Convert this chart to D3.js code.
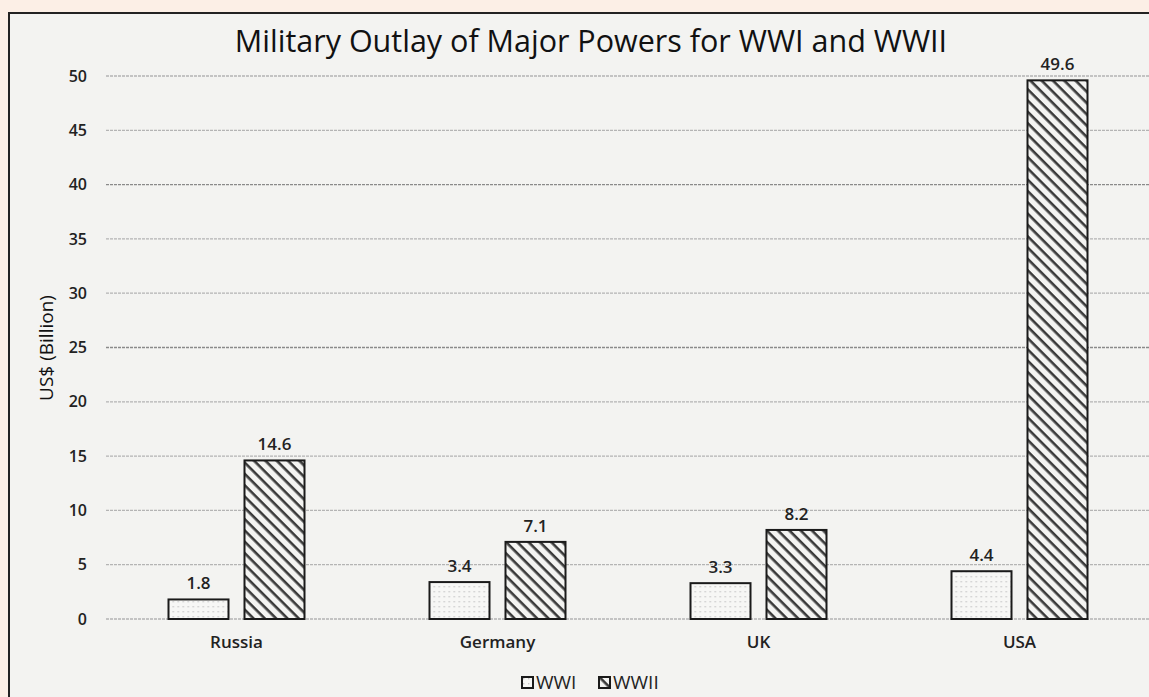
<!DOCTYPE html>
<html><head><meta charset="utf-8">
<script src="https://cdn.jsdelivr.net/npm/d3@7"></script>
<style>
html,body{margin:0;padding:0;background:#fcefe6;}
svg{display:block;}
</style></head>
<body>
<svg id="chart" width="1149" height="697"></svg>
<script>
const categories = ["Russia","Germany","UK","USA"];
const seriesNames = ["WWI","WWII"];
const wwi = [1.8, 3.4, 3.3, 4.4];
const wwii = [14.6, 7.1, 8.2, 49.6];
const yTicks = [0,5,10,15,20,25,30,35,40,45,50];

const svg = d3.select("#chart");
const W = 1149, H = 697;

const defs = svg.append("defs");
const dots = defs.append("pattern").attr("id","dots").attr("patternUnits","userSpaceOnUse")
  .attr("width",5).attr("height",5);
dots.append("rect").attr("width",5).attr("height",5).attr("fill","#f7f7f5");
dots.append("rect").attr("x",1).attr("y",1).attr("width",1.4).attr("height",1.4).attr("fill","#c8c8c8");
const hatch = defs.append("pattern").attr("id","hatch").attr("patternUnits","userSpaceOnUse")
  .attr("width",8).attr("height",8).attr("patternTransform","rotate(45)");
hatch.append("rect").attr("width",8).attr("height",8).attr("fill","#f4f4f2");
hatch.append("rect").attr("x",0).attr("y",0).attr("width",8).attr("height",2.6).attr("fill","#3a3a3a");

// panel
svg.append("rect").attr("x",9).attr("y",13).attr("width",W).attr("height",H)
  .attr("fill","#f3f3f1").attr("stroke","#222").attr("stroke-width",2);

const x0 = d3.scaleBand().domain(categories).range([106, 1150]).paddingInner(0).paddingOuter(0);
const y = d3.scaleLinear().domain([0,50]).range([619, 76]);

const font = "'Open Sans', 'Noto Sans', sans-serif";

// gridlines
svg.append("g").selectAll("line").data(yTicks).join("line")
  .attr("x1",106).attr("x2",1149)
  .attr("y1",d=>y(d)).attr("y2",d=>y(d))
  .attr("stroke",d=>(d===40||d===25)?"#8a8a8a":"#b4b4b4").attr("stroke-width",1.3)
  .attr("stroke-dasharray","3,1");

// y axis labels
const yAxis = d3.axisLeft(y).tickValues(yTicks).tickSize(0).tickPadding(0);
const gy = svg.append("g").attr("transform","translate(87,0)").call(yAxis);
gy.select(".domain").remove();
gy.selectAll("text").attr("font-family",font).attr("font-size",16).attr("font-weight",600).attr("fill","#222");

// bars
const barW = 60, gap = 16;
const groups = svg.append("g").selectAll("g").data(categories).join("g")
  .attr("transform",d=>`translate(${x0(d)+x0.bandwidth()/2},0)`);
const vals = [wwi, wwii];
seriesNames.forEach((s,si)=>{
  groups.append("rect")
    .attr("x", si===0 ? -(barW+gap/2) : gap/2)
    .attr("y",(d,i)=>y(vals[si][i]))
    .attr("width",barW)
    .attr("height",(d,i)=>y(0)-y(vals[si][i]))
    .attr("fill", si===0 ? "url(#dots)" : "url(#hatch)")
    .attr("stroke","#1a1a1a").attr("stroke-width",2);
  groups.append("text")
    .attr("x", si===0 ? -(barW/2+gap/2) : gap/2+barW/2)
    .attr("y",(d,i)=>y(vals[si][i])-10)
    .attr("text-anchor","middle")
    .attr("font-family",font).attr("font-size",17).attr("font-weight",600).attr("fill","#222")
    .text((d,i)=>vals[si][i].toFixed(1));
});

// x axis labels
const xAxis = d3.axisBottom(x0).tickSize(0).tickPadding(0);
const gx = svg.append("g").attr("transform","translate(0,636)").call(xAxis);
gx.select(".domain").remove();
gx.selectAll("text").attr("font-family",font).attr("font-size",17).attr("font-weight",600).attr("fill","#222")
  .attr("dy","0.71em");

// title
svg.append("text").attr("x",591).attr("y",52).attr("text-anchor","middle")
  .attr("font-family",font).attr("font-size",30.5).attr("fill","#111")
  .text("Military Outlay of Major Powers for WWI and WWII");

// y title
svg.append("text").attr("transform","translate(53,348) rotate(-90)").attr("text-anchor","middle")
  .attr("font-family",font).attr("font-size",19).attr("fill","#111")
  .text("US$ (Billion)");

// legend
const leg = svg.append("g").attr("transform","translate(522,677)");
const legItems = [{n:"WWI",f:"url(#dots)",x:0},{n:"WWII",f:"url(#hatch)",x:77}];
legItems.forEach(it=>{
  leg.append("rect").attr("x",it.x).attr("y",0).attr("width",11).attr("height",11)
    .attr("fill",it.f).attr("stroke","#1a1a1a").attr("stroke-width",2);
  leg.append("text").attr("x",it.x+14).attr("y",12).attr("font-family",font).attr("font-size",19)
    .attr("font-weight",500).attr("fill","#222").text(it.n);
});
</script>
</body></html>
